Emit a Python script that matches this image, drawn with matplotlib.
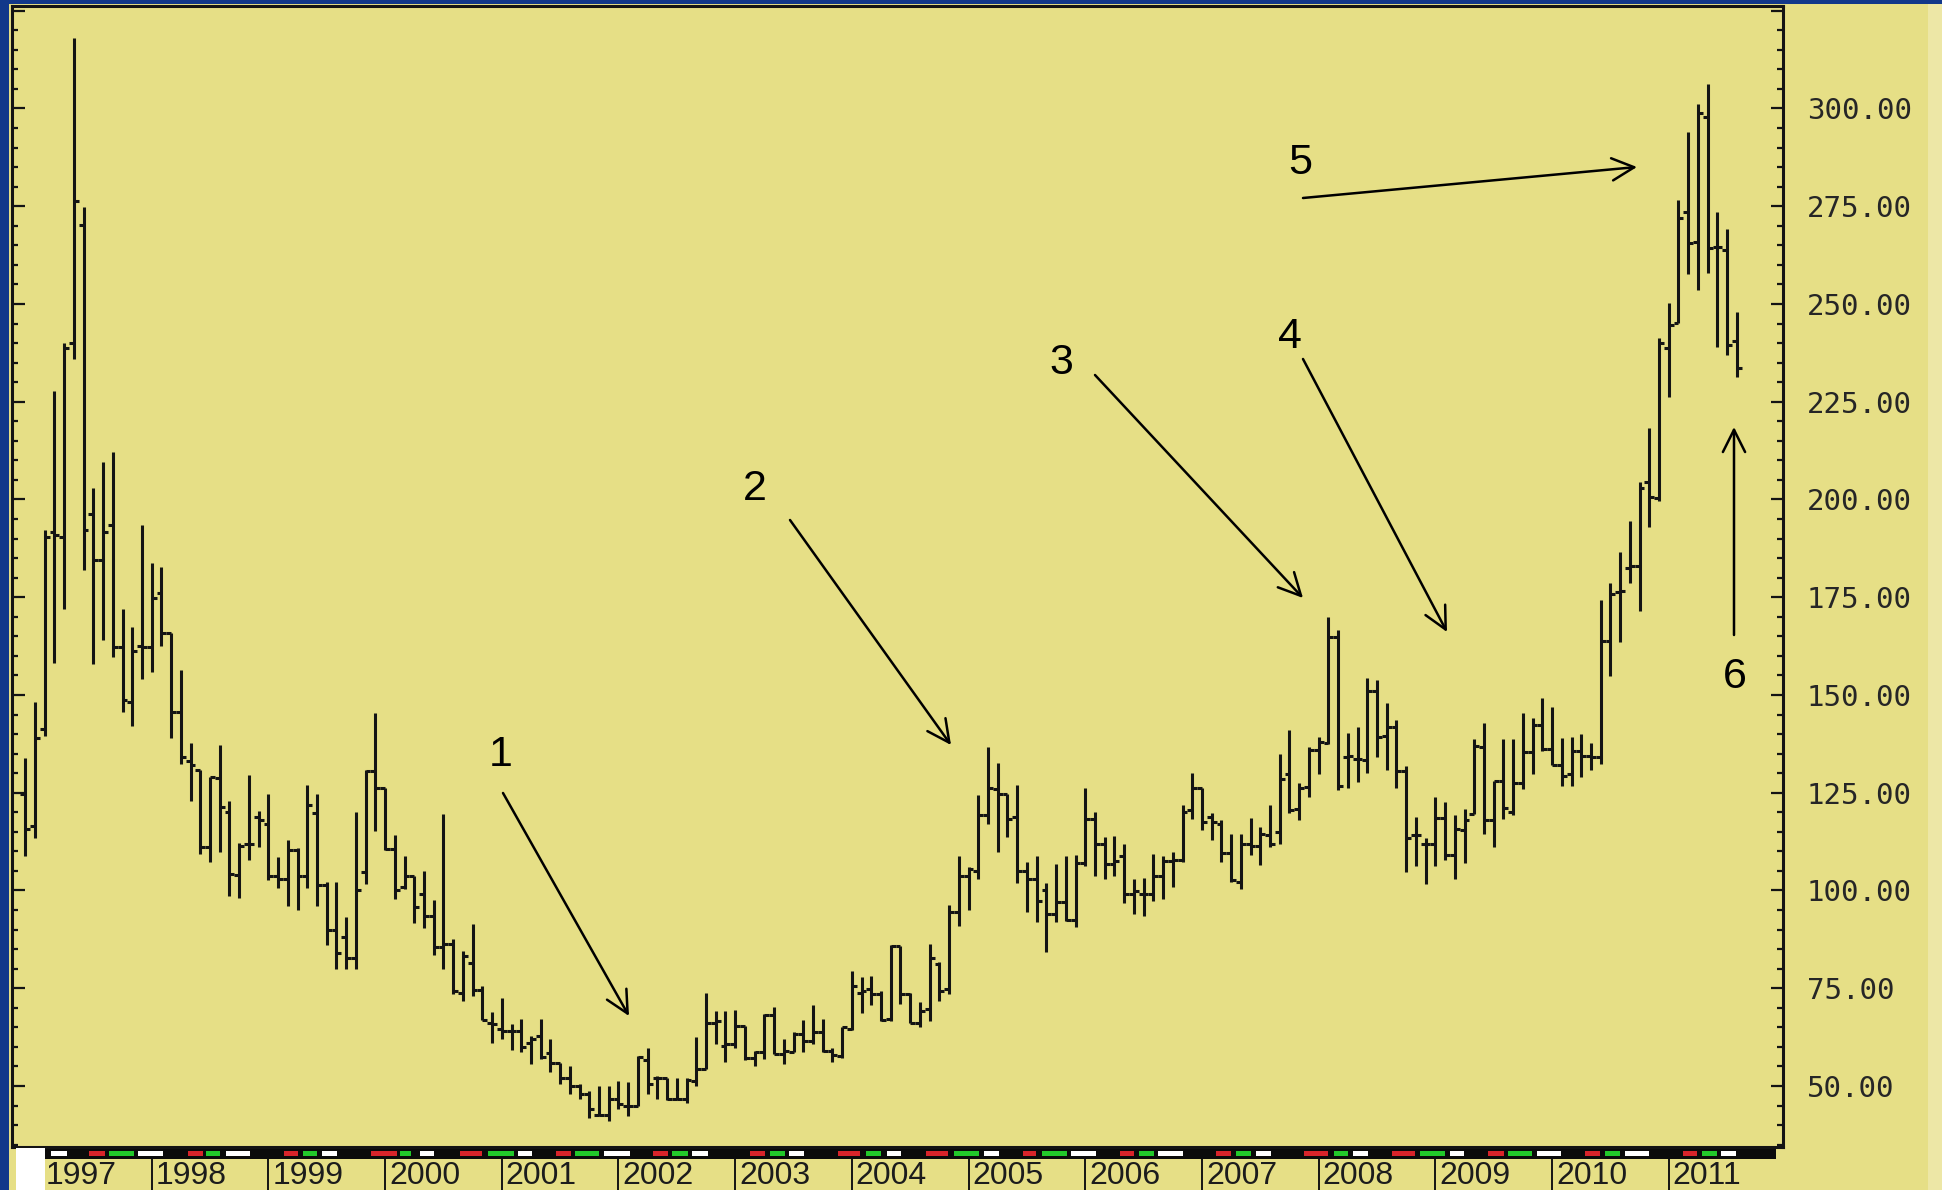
import matplotlib
matplotlib.use("Agg")
import matplotlib.pyplot as plt
from matplotlib.ticker import MultipleLocator, FuncFormatter
from matplotlib.patches import Rectangle

W, H = 1942, 1190
BG = "#E6DF86"
BLUE = "#12388A"
INK = "#141414"

# ---------------- data (monthly OHLC, first bar = Dec 1996) ----------------
first_year, first_month = 1996, 12
opens = [124.7,116.5,141.4,191.8,190.4,239.9,270.1,196.4,184.6,193.5,
         162.2,148.2,162.6,162.2,176.0,165.9,145.7,133.1,130.9,111.2,
         128.8,120.1,104.0,111.8,118.9,116.9,103.6,102.9,110.4,103.6,
         119.9,101.3,90.0,88.0,82.7,104.7,130.6,126.1,110.7,100.9,
         103.8,99.1,93.6,85.5,86.3,73.9,81.4,74.5,66.2,64.5,
         64.1,64.1,61.1,62.8,58.5,56.0,52.1,50.0,47.9,42.7,
         42.7,46.6,44.9,44.9,56.6,52.1,52.1,46.6,46.6,51.3,
         54.3,66.0,60.3,60.7,65.4,57.1,58.8,68.2,58.3,58.8,
         63.4,61.5,63.7,59.0,57.7,64.5,73.9,74.8,73.5,67.1,
         85.9,73.5,66.2,69.7,81.2,74.8,94.4,103.6,105.0,119.2,
         126.0,124.8,118.8,105.0,103.0,100.0,94.0,97.0,92.5,107.0,
         118.4,112.0,106.8,108.7,99.1,99.1,99.1,103.6,107.5,107.7,
         120.5,126.1,118.8,117.1,109.6,102.1,112.0,111.5,114.1,115.0,
         129.9,120.9,126.5,135.9,137.6,164.8,134.2,133.5,133.3,151.1,
         139.5,141.9,130.6,114.1,112.0,112.0,118.6,109.2,115.4,119.6,
         136.8,118.0,128.1,120.0,127.6,135.5,142.2,136.2,132.0,129.8,
         135.8,134.5,134.2,163.8,176.3,182.5,183.0,204.4,200.3,238.8,
         245.2,273.5,265.9,297.8,264.6,263.7,240.4]
highs = [133.8,148.2,192.1,227.8,239.9,318.0,274.8,202.9,209.6,212.2,
         171.9,167.3,193.5,183.7,182.7,165.9,156.4,137.7,130.9,129.1,
         137.1,123.0,112.2,129.5,120.4,124.7,108.6,113.0,110.8,127.0,
         124.7,102.2,102.2,93.2,120.1,130.8,145.3,126.1,114.3,108.7,
         103.8,105.0,97.6,119.5,87.6,84.5,91.5,75.6,68.8,72.6,
         65.8,67.1,62.8,67.1,62.0,56.0,55.1,50.4,48.7,50.0,
         50.0,51.3,50.9,57.7,59.8,52.6,52.1,52.1,52.1,62.6,
         73.9,69.1,69.1,69.4,65.4,59.0,68.4,70.1,62.0,63.7,
         66.8,70.8,67.1,59.8,65.1,79.5,77.8,78.2,74.4,86.1,
         85.9,73.9,71.4,86.3,81.6,96.4,108.7,106.1,124.4,136.8,
         132.5,124.8,126.9,107.3,108.7,101.9,106.8,108.7,109.0,126.3,
         120.1,113.7,113.9,112.0,103.0,103.3,109.4,108.7,109.8,121.8,
         130.1,126.3,119.8,118.1,114.5,114.4,118.6,116.2,121.8,134.9,
         141.0,127.4,136.8,139.3,169.9,166.7,140.3,141.9,154.3,153.8,
         148.0,143.6,131.8,118.8,113.3,123.8,122.7,119.2,120.8,138.7,
         142.9,128.1,138.7,138.7,145.5,144.2,149.3,146.8,139.1,139.3,
         140.0,137.8,174.4,178.6,186.5,194.5,204.4,218.2,241.4,250.3,
         276.5,293.9,301.1,306.2,273.5,269.2,248.0]
lows = [108.9,113.4,139.6,158.3,171.9,236.0,182.0,157.8,164.0,159.7,
        145.7,142.0,154.0,155.8,162.6,139.1,132.4,123.0,109.3,107.2,
        109.8,98.6,98.0,107.9,111.2,102.6,100.7,96.0,95.0,100.7,
        96.0,86.0,80.0,79.9,79.9,101.7,115.2,110.3,97.9,100.4,
        91.6,90.4,83.6,79.9,73.5,71.8,73.1,66.8,61.1,62.0,
        59.1,58.8,55.7,56.8,53.7,50.4,47.9,46.6,41.9,42.3,
        41.0,44.0,42.3,44.9,47.9,46.6,46.3,46.3,45.7,50.0,
        54.3,60.7,56.2,59.8,56.6,55.1,56.8,58.3,55.5,58.6,
        58.8,60.7,58.8,56.2,57.1,64.3,68.6,70.8,66.7,66.7,
        70.9,66.0,65.0,66.7,71.8,73.5,91.0,94.9,103.0,117.0,
        109.8,113.7,101.9,94.4,91.9,84.2,91.9,92.3,90.6,106.2,
        103.6,103.0,103.6,96.8,94.0,93.6,97.3,97.9,100.8,107.3,
        118.4,115.4,112.8,107.3,102.1,100.4,109.0,106.4,111.1,112.0,
        119.8,117.9,123.9,129.7,137.4,125.8,126.1,127.8,130.1,134.2,
        130.8,126.1,104.7,106.2,101.7,106.2,107.9,103.0,107.0,119.6,
        114.5,111.0,118.3,119.2,126.0,129.8,135.8,132.0,126.6,126.8,
        129.1,130.7,132.3,154.9,163.6,178.6,171.5,192.9,199.6,226.3,
        245.2,257.7,253.5,258.0,239.1,236.9,231.2]
closes = [115.8,139.1,190.4,190.9,238.8,276.3,192.1,184.6,191.7,162.2,
          148.6,161.2,162.2,174.8,165.9,145.7,134.2,132.0,111.2,129.1,
          121.3,104.3,111.5,111.8,117.9,103.6,102.9,110.4,103.6,121.9,
          101.3,90.0,84.0,82.7,100.0,130.6,126.1,110.7,100.2,103.8,
          95.7,93.6,85.5,86.3,74.4,83.3,74.5,66.8,65.8,64.0,
          64.0,60.0,62.0,57.3,56.0,52.1,50.0,47.9,44.0,42.7,
          46.6,45.3,44.9,57.3,50.6,52.1,46.6,46.6,51.5,54.3,
          66.0,66.7,60.7,65.4,57.1,58.8,68.2,58.3,59.0,63.4,
          61.5,63.7,59.0,58.0,65.0,75.6,74.4,73.5,66.8,85.9,
          73.5,66.2,69.2,82.7,74.4,94.4,103.6,105.6,119.2,126.1,
          124.8,118.4,105.0,103.0,97.4,94.0,97.0,92.5,107.0,118.4,
          112.0,106.8,107.5,99.1,99.8,99.1,103.6,107.5,107.7,120.1,
          126.1,117.5,117.5,109.6,102.7,112.0,111.5,114.5,112.0,128.6,
          120.5,126.1,135.9,138.0,164.8,126.7,134.4,133.5,151.1,139.3,
          141.9,130.6,113.3,114.1,112.0,118.6,109.2,115.8,118.0,137.0,
          117.9,128.1,121.2,127.6,135.5,142.2,136.2,132.0,129.4,135.8,
          134.5,134.2,163.8,175.7,176.6,183.0,202.9,200.6,240.1,244.6,
          272.0,265.6,298.8,264.3,264.6,239.5,233.7]

year_labels = [str(y) for y in range(1997, 2012)]

# seasonal markers in the calendar strip: (colour, start year, end year)
season_marks = [
    ("w", 1997.140, 1997.274), ("r", 1997.465, 1997.599), ("g", 1997.638, 1997.848), ("w", 1997.887, 1998.097),
    ("r", 1998.307, 1998.441), ("g", 1998.468, 1998.583), ("w", 1998.633, 1998.843),
    ("r", 1999.130, 1999.257), ("g", 1999.295, 1999.418), ("w", 1999.463, 1999.589),
    ("r", 1999.876, 2000.098), ("g", 2000.126, 2000.221), ("w", 2000.297, 2000.420),
    ("r", 2000.642, 2000.833), ("g", 2000.879, 2001.101), ("w", 2001.140, 2001.255),
    ("r", 2001.465, 2001.591), ("g", 2001.630, 2001.829), ("w", 2001.875, 2002.097),
    ("r", 2002.296, 2002.422), ("g", 2002.460, 2002.594), ("w", 2002.633, 2002.771),
    ("r", 2003.130, 2003.256), ("g", 2003.295, 2003.428), ("w", 2003.459, 2003.590),
    ("r", 2003.880, 2004.071), ("g", 2004.125, 2004.251), ("w", 2004.301, 2004.424),
    ("r", 2004.634, 2004.826), ("g", 2004.876, 2005.093), ("w", 2005.132, 2005.258),
    ("r", 2005.465, 2005.580), ("g", 2005.629, 2005.840), ("w", 2005.878, 2006.089),
    ("r", 2006.299, 2006.414), ("g", 2006.460, 2006.586), ("w", 2006.625, 2006.834),
    ("r", 2007.122, 2007.249), ("g", 2007.294, 2007.417), ("w", 2007.467, 2007.593),
    ("r", 2007.876, 2008.078), ("g", 2008.129, 2008.251), ("w", 2008.297, 2008.423),
    ("r", 2008.630, 2008.824), ("g", 2008.872, 2009.082), ("w", 2009.122, 2009.245),
    ("r", 2009.454, 2009.584), ("g", 2009.626, 2009.827), ("w", 2009.875, 2010.079),
    ("r", 2010.286, 2010.409), ("g", 2010.450, 2010.578), ("w", 2010.623, 2010.830),
    ("r", 2011.121, 2011.244), ("g", 2011.283, 2011.412), ("w", 2011.451, 2011.574),
]

# annotations: label, label position, arrow tail, arrow head (figure pixels from top-left)
notes = [
    ("1", (501, 755), (503, 793), (629, 1016)),
    ("2", (755, 489), (790, 520), (951, 745)),
    ("3", (1061, 363), (1095, 375), (1303, 598)),
    ("4", (1290, 337), (1303, 359), (1447, 632)),
    ("5", (1300, 163), (1303, 198), (1637, 167)),
    ("6", (1735, 677), (1734, 635), (1734, 427)),
]

# ---------------- figure ----------------
fig = plt.figure(figsize=(W / 100, H / 100), dpi=100)
fig.patch.set_facecolor(BG)

def fx(px):
    return px / W

def fy(py):
    return 1 - py / H

X0, X1 = 12, 1783
Y0, Y1 = 6, 1147
ax = fig.add_axes([fx(X0), fy(Y1), fx(X1) - fx(X0), fy(Y0) - fy(Y1)])
ax.set_facecolor(BG)
xl = (1996.803, 2011.979)
ax.set_xlim(*xl)
ax.set_ylim(34.4, 326.2)

n = len(opens)
xs = [first_year + (first_month - 1) / 12 + i / 12 for i in range(n)]
tick = 0.5 / 12
LW = 2.2
ax.vlines(xs, lows, highs, color=INK, lw=LW, capstyle="butt")
ax.hlines(opens, [x - tick for x in xs], xs, color=INK, lw=LW)
ax.hlines(closes, xs, [x + tick for x in xs], color=INK, lw=LW)

ax.yaxis.set_major_locator(MultipleLocator(25))
ax.yaxis.set_minor_locator(MultipleLocator(5))
ax.yaxis.set_major_formatter(FuncFormatter(lambda v, p: f"{v:.2f}" if 45 <= v <= 305 else ""))
ax.tick_params(axis="y", which="both", left=True, right=True, direction="in",
               labelleft=False, labelright=True, colors=INK, width=1.6)
ax.tick_params(axis="y", which="major", length=9, pad=17, labelsize=21, labelcolor="#262626")
ax.tick_params(axis="y", which="minor", length=4.5)
for lab in ax.get_yticklabels():
    lab.set_family("DejaVu Sans Mono")
ax.set_xticks([])
for s in ax.spines.values():
    s.set_color(INK)
    s.set_linewidth(2.2)

# ---------------- calendar strip ----------------
sax = fig.add_axes([fx(X0), 0, fx(X1) - fx(X0), fy(Y1)])
sax.set_xlim(*xl)
sax.set_ylim(43, 0)
sax.axis("off")
sax.patch.set_alpha(0)
sax.add_patch(Rectangle((1996.99, 2), 2011.92 - 1996.99, 9.5, color="#0b0b0b", lw=0))
cols = {"r": "#D8242A", "g": "#22C92A", "w": "#FFFFFF"}
for c, a, b in season_marks:
    sax.add_patch(Rectangle((a, 4.3), b - a, 5, color=cols[c], lw=0))
for i, lab in enumerate(year_labels):
    yr = 1997 + i
    sax.vlines(yr, 12, 43, color=INK, lw=1.4)
    off = 4 / 116.64
    sax.text(yr + off + (0.06 if i == 0 else 0), 28.5, lab, ha="left", va="center",
             fontsize=23, family="Liberation Sans", color="#1c1c1c")
sax.add_patch(Rectangle((1996.835, 0.5), 0.25, 43, color="white", lw=0, zorder=5))

# ---------------- frame decorations ----------------
fig.add_artist(Rectangle((0, 0), fx(9), 1, transform=fig.transFigure, color=BLUE, lw=0))
fig.add_artist(Rectangle((0, fy(4)), 1, fy(0) - fy(4), transform=fig.transFigure, color=BLUE, lw=0))
fig.add_artist(Rectangle((fx(1928), 0), fx(W) - fx(1928), fy(4), transform=fig.transFigure,
                         color="#EDE7A6", lw=0))

# ---------------- annotations ----------------
for lab, (tx, ty), (ax0, ay0), (ax1, ay1) in notes:
    fig.text(fx(tx), fy(ty), lab, ha="center", va="center", fontsize=31,
             family="Liberation Sans", color="black")
    ax.annotate("", xy=(ax1, H - ay1), xytext=(ax0, H - ay0),
                xycoords="figure pixels", textcoords="figure pixels",
                arrowprops=dict(arrowstyle="->,head_length=0.8,head_width=0.4",
                                lw=1.8, color="black", shrinkA=0, shrinkB=0,
                                mutation_scale=20))

fig.savefig("out.png", dpi=100, facecolor=BG)
